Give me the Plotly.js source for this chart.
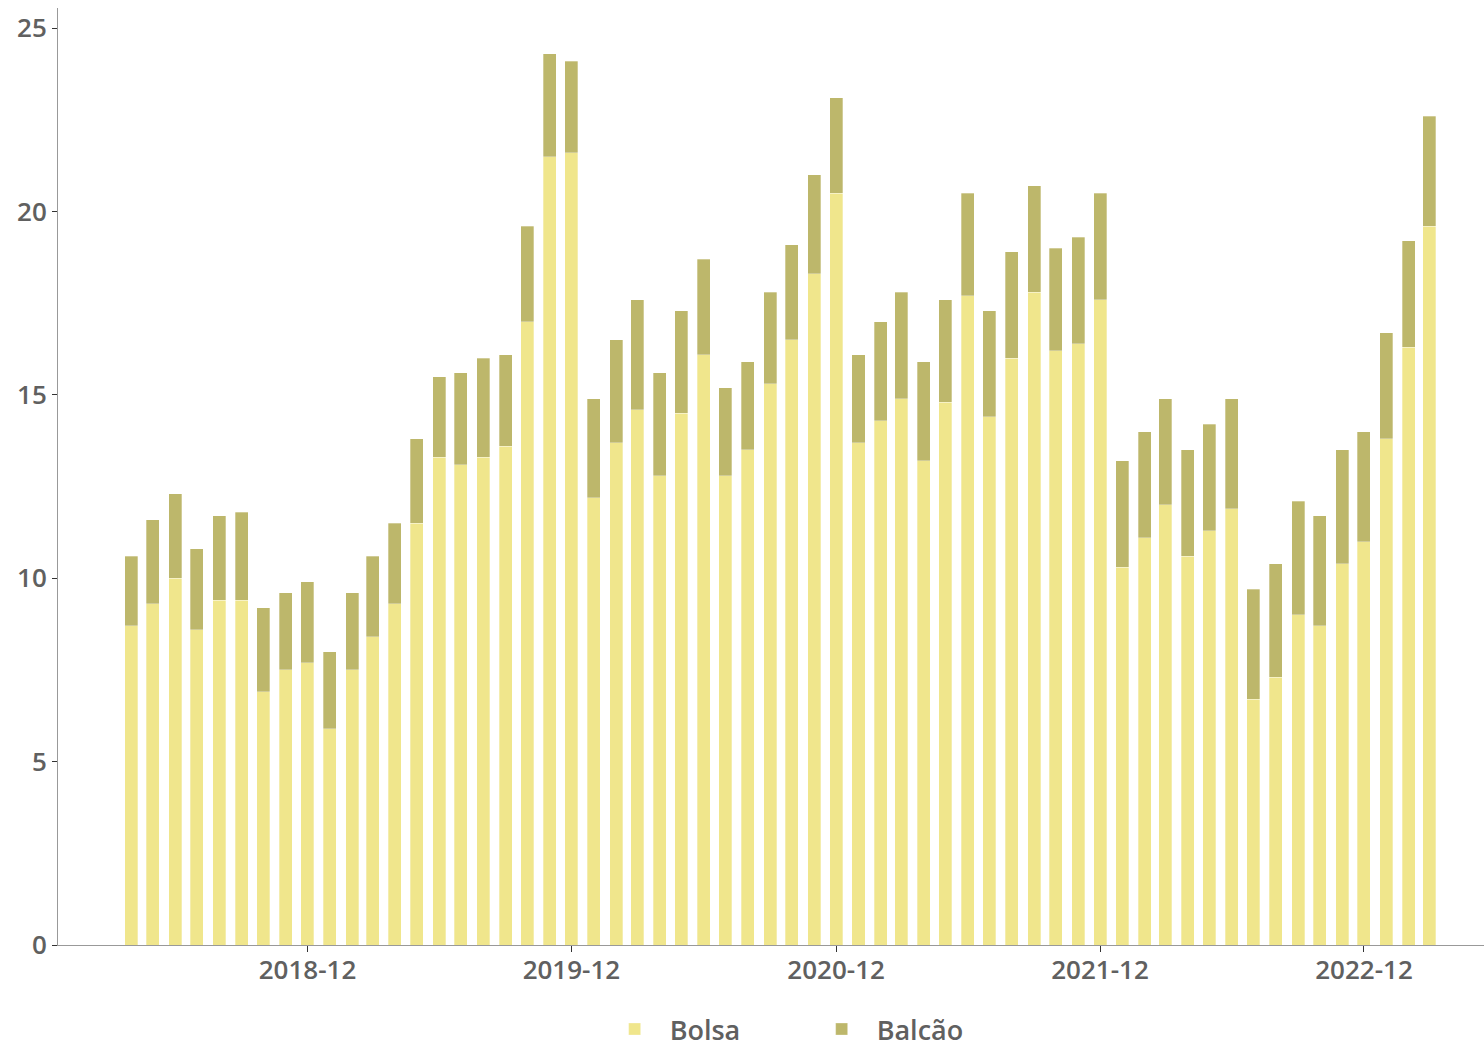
<!DOCTYPE html>
<html>
<head>
<meta charset="utf-8">
<script src="https://cdn.plot.ly/plotly-3.0.1.min.js"></script>
<style>html,body{margin:0;padding:0;background:#fff;}#chart{width:1484px;height:1041px;}</style>
</head>
<body>
<div id="chart"></div>
<script>
const months = [
  '2018-04','2018-05','2018-06','2018-07','2018-08','2018-09','2018-10','2018-11','2018-12',
  '2019-01','2019-02','2019-03','2019-04','2019-05','2019-06','2019-07','2019-08','2019-09','2019-10','2019-11','2019-12',
  '2020-01','2020-02','2020-03','2020-04','2020-05','2020-06','2020-07','2020-08','2020-09','2020-10','2020-11','2020-12',
  '2021-01','2021-02','2021-03','2021-04','2021-05','2021-06','2021-07','2021-08','2021-09','2021-10','2021-11','2021-12',
  '2022-01','2022-02','2022-03','2022-04','2022-05','2022-06','2022-07','2022-08','2022-09','2022-10','2022-11','2022-12',
  '2023-01','2023-02','2023-03'
];
const totals = [
  10.6, 11.6, 12.3, 10.8, 11.7, 11.8, 9.2, 9.6, 9.9,
  8.0, 9.6, 10.6, 11.5, 13.8, 15.5, 15.6, 16.0, 16.1, 19.6, 24.3, 24.1,
  14.9, 16.5, 17.6, 15.6, 17.3, 18.7, 15.2, 15.9, 17.8, 19.1, 21.0, 23.1,
  16.1, 17.0, 17.8, 15.9, 17.6, 20.5, 17.3, 18.9, 20.7, 19.0, 19.3, 20.5,
  13.2, 14.0, 14.9, 13.5, 14.2, 14.9, 9.7, 10.4, 12.1, 11.7, 13.5, 14.0,
  16.7, 19.2, 22.6
];
const bolsa = [
  8.7, 9.3, 10.0, 8.6, 9.4, 9.4, 6.9, 7.5, 7.7,
  5.9, 7.5, 8.4, 9.3, 11.5, 13.3, 13.1, 13.3, 13.6, 17.0, 21.5, 21.6,
  12.2, 13.7, 14.6, 12.8, 14.5, 16.1, 12.8, 13.5, 15.3, 16.5, 18.3, 20.5,
  13.7, 14.3, 14.9, 13.2, 14.8, 17.7, 14.4, 16.0, 17.8, 16.2, 16.4, 17.6,
  10.3, 11.1, 12.0, 10.6, 11.3, 11.9, 6.7, 7.3, 9.0, 8.7, 10.4, 11.0,
  13.8, 16.3, 19.6
];
const balcao = totals.map((t, i) => Math.round((t - bolsa[i]) * 10) / 10);
const seriesNames = ['Bolsa', 'Balcão'];
const titleText = 'Volume médio diário negociado por ambiente (R$, bi)';

const xDates = months.map(m => m + '-01');
const font = "'Open Sans', 'DejaVu Sans', sans-serif";
const txtColor = '#606060';
const dayMs = 86400000;

const traces = [
  {
    type: 'bar', name: seriesNames[0], x: xDates, y: bolsa,
    width: 18 * dayMs,
    marker: {color: '#f0e68c', line: {color: 'rgba(255,255,255,0.6)', width: 0.5}},
    hoverinfo: 'x+y'
  },
  {
    type: 'bar', name: seriesNames[1], x: xDates, y: balcao,
    width: 18 * dayMs,
    marker: {color: '#bdb76b', line: {color: 'rgba(255,255,255,0.6)', width: 0.5}},
    hoverinfo: 'x+y'
  }
];

const layout = {
  width: 1484, height: 1041,
  barmode: 'stack',
  paper_bgcolor: '#ffffff', plot_bgcolor: '#ffffff',
  margin: {l: 58, r: 0, t: 8, b: 96, autoexpand: false},
  font: {family: font, size: 26, color: txtColor},
  showlegend: true,
  legend: {
    orientation: 'h', x: 0.525, xanchor: 'center', y: -0.064, yanchor: 'top',
    font: {family: font, size: 27, color: txtColor, weight: 600},
    itemwidth: 60, traceorder: 'normal', entrywidth: 132
  },
  xaxis: {
    type: 'date',
    range: ['2017-12-21', '2023-05-16'],
    tick0: '2018-12-01', dtick: 'M12', tickformat: '%Y-%m',
    ticks: 'outside', ticklen: 6, tickcolor: '#333', tickwidth: 1,
    ticklabelstandoff: -4,
    showline: true, linecolor: '#999', linewidth: 1,
    showgrid: false, zeroline: false,
    tickfont: {family: font, size: 26, color: txtColor, weight: 600}
  },
  yaxis: {
    range: [0, 25.55],
    tick0: 0, dtick: 5,
    ticks: 'outside', ticklen: 5, tickcolor: '#333', tickwidth: 1,
    showline: true, linecolor: '#999', linewidth: 1,
    showgrid: false, zeroline: false,
    tickfont: {family: font, size: 26, color: txtColor, weight: 600}
  },
  annotations: [{
    text: titleText, xref: 'paper', yref: 'paper',
    x: 0.53, y: 1.0095, xanchor: 'center', yanchor: 'bottom',
    showarrow: false,
    font: {family: font, size: 26, color: txtColor, weight: 600}
  }]
};

Plotly.newPlot('chart', traces, layout, {displayModeBar: false, staticPlot: true});
</script>
</body>
</html>
